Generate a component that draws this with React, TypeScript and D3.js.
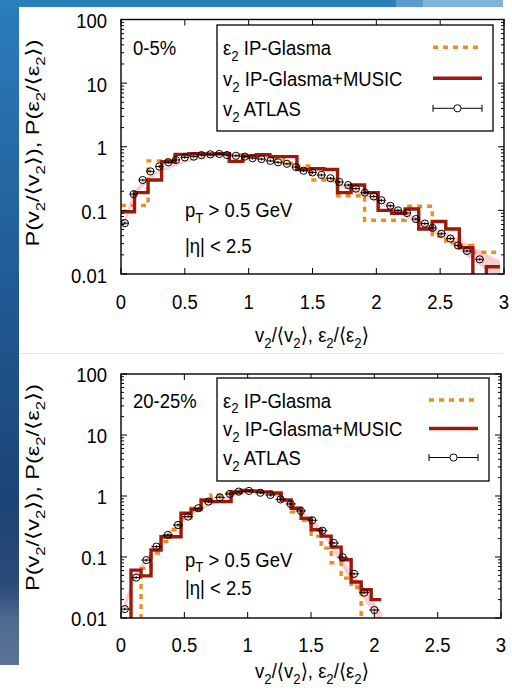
import React from "react";
import * as d3 from "d3";

const W = 512;
const H = 690;

// ---------- shared axis definitions ----------
const xTicks = [0, 0.5, 1, 1.5, 2, 2.5, 3];
const xTickLabels = ["0", "0.5", "1", "1.5", "2", "2.5", "3"];
const yTicks = [0.01, 0.1, 1, 10, 100];
const yTickLabels = ["0.01", "0.1", "1", "10", "100"];

// ---------- 0-5% ----------
const topBinWidth = 0.106;
const topGlasma = [
  0.12, 0.12, 0.6, 0.62, 0.72, 0.74, 0.76, 0.78, 0.74, 0.7, 0.72, 0.66, 0.55, 0.5,
  0.3, 0.3, 0.17, 0.17, 0.07, 0.07, 0.07, 0.116, 0.116, 0.039, 0.031, 0.028, 0.022, 0.022,
];
const topMusic = [
  0.095, 0.19, 0.3, 0.58, 0.76, 0.78, 0.77, 0.78, 0.59, 0.72, 0.75, 0.7, 0.7, 0.44,
  0.45, 0.44, 0.19, 0.25, 0.19, 0.1, 0.09, 0.105, 0.051, 0.067, 0.051, 0.026, 0.004, 0.013,
];
const topAtlasX = [
  0.03, 0.1, 0.17, 0.23, 0.3, 0.37, 0.43, 0.5, 0.57, 0.63, 0.7, 0.77, 0.83, 0.9, 0.97,
  1.03, 1.1, 1.17, 1.23, 1.3, 1.37, 1.43, 1.5, 1.57, 1.64, 1.71, 1.78, 1.84, 1.91, 1.98,
  2.04, 2.11, 2.17, 2.24, 2.31, 2.38, 2.44, 2.51, 2.58, 2.64, 2.71, 2.81,
];
const topAtlasY = [
  0.063, 0.18, 0.3, 0.41, 0.49, 0.57, 0.62, 0.68, 0.7, 0.74, 0.76, 0.77, 0.74, 0.72, 0.7,
  0.66, 0.64, 0.6, 0.57, 0.54, 0.48, 0.42, 0.395, 0.36, 0.32, 0.28, 0.25, 0.22, 0.19, 0.166,
  0.144, 0.118, 0.1, 0.091, 0.073, 0.062, 0.053, 0.043, 0.036, 0.028, 0.023, 0.017,
];
const topBandX = [0.02, 0.1, 0.2, 0.3, 0.5, 0.8, 1.0, 1.4, 1.8, 2.1, 2.4, 2.6, 2.8, 2.97];
const topBandLo = [0.05, 0.16, 0.27, 0.39, 0.56, 0.73, 0.67, 0.46, 0.2, 0.11, 0.05, 0.028, 0.014, 0.008];
const topBandHi = [0.068, 0.2, 0.33, 0.44, 0.62, 0.8, 0.74, 0.5, 0.23, 0.13, 0.062, 0.04, 0.024, 0.016];

// ---------- 20-25% ----------
const botBinWidth = 0.079;
const botGlasma = [
  0.001, 0.001, 0.065, 0.116, 0.18, 0.28, 0.44, 0.63, 0.81, 1.04, 1.1, 1.2, 1.25, 1.22,
  1.15, 1.05, 0.85, 0.55, 0.4, 0.22, 0.14, 0.08, 0.045, 0.032, 0.001, 0.001,
];
const botMusic = [
  0.001, 0.061, 0.049, 0.13, 0.215, 0.215, 0.52, 0.6, 0.86, 0.81, 0.81, 1.15, 1.22, 1.2,
  1.17, 1.12, 0.86, 0.63, 0.43, 0.28, 0.22, 0.145, 0.09, 0.039, 0.029, 0.02,
];
const botAtlasX = [
  0.03, 0.12, 0.2, 0.28, 0.37, 0.45, 0.53, 0.61, 0.69, 0.78, 0.86, 0.93, 1.01, 1.1, 1.18,
  1.26, 1.34, 1.42, 1.51, 1.59, 1.68, 1.75, 1.84, 1.92, 2.0,
];
const botAtlasY = [
  0.014, 0.046, 0.089, 0.148, 0.23, 0.335, 0.46, 0.63, 0.81, 0.95, 1.08, 1.18, 1.21, 1.13,
  1.04, 0.88, 0.74, 0.57, 0.4, 0.27, 0.17, 0.099, 0.053, 0.026, 0.0135,
];
const botBandX = [0.02, 0.1, 0.2, 0.4, 0.6, 0.8, 1.0, 1.2, 1.4, 1.6, 1.8, 1.95, 2.06];
const botBandLo = [0.011, 0.038, 0.082, 0.26, 0.55, 0.85, 1.12, 1.05, 0.58, 0.22, 0.045, 0.016, 0.007];
const botBandHi = [0.016, 0.05, 0.098, 0.3, 0.62, 0.93, 1.22, 1.14, 0.66, 0.28, 0.065, 0.026, 0.012];

const FONT = "'Liberation Sans', Arial, 'DejaVu Sans', sans-serif";
const ORANGE = "#f28a1c";
const DARKRED = "#9c1a0c";
const BAND = "#f8c6c6";
const STRETCH = 1.12;

type Seg = { t: string; sub?: boolean };

function Rich({
  x, y, segs, size = 18.5, anchor = "start", stretch = STRETCH,
}: { x: number; y: number; segs: Seg[]; size?: number; anchor?: string; stretch?: number }) {
  const subSize = size * 0.72;
  const shift = size * 0.28;
  let prevSub = false;
  return (
    <text
      transform={`translate(${x},${y}) scale(1,${stretch})`}
      fontFamily={FONT}
      fontSize={size}
      textAnchor={anchor as any}
      fill="#000"
    >
      {segs.map((s, i) => {
        let dy = 0;
        if (s.sub && !prevSub) dy = shift;
        if (!s.sub && prevSub) dy = -shift;
        prevSub = !!s.sub;
        return (
          <tspan key={i} dy={dy} fontSize={s.sub ? subSize : size}>
            {s.t}
          </tspan>
        );
      })}
    </text>
  );
}

type PanelCfg = {
  id: string;
  left: number; right: number; top: number; bottom: number;
  binWidth: number;
  glasma: number[]; music: number[];
  atlasX: number[]; atlasY: number[]; atlasHalf: number;
  bandX: number[]; bandLo: number[]; bandHi: number[];
  centLabel: string; centBase: number;
  legend: { x1: number; y1: number; x2: number; y2: number; rows: number[]; s1: number; s2: number };
  kin: number[];
  xLabelBase: number; xTitleBase: number; yTitleMid: number; yLabelDy: number;
};

function Panel(c: PanelCfg) {
  const x = d3.scaleLinear().domain([0, 3]).range([c.left, c.right]);
  const y = d3.scaleLog().domain([0.01, 100]).range([c.bottom, c.top]);

  const stepPts = (vals: number[]) => {
    const pts: [number, number][] = vals.map((v, i) => [i * c.binWidth, v]);
    pts.push([vals.length * c.binWidth, vals[vals.length - 1]]);
    return pts;
  };
  const step = d3
    .line<[number, number]>()
    .x((d) => x(d[0]))
    .y((d) => y(Math.max(d[1], 0.0005)))
    .curve(d3.curveStepAfter);

  const band = d3
    .area<number>()
    .x((i) => x(c.bandX[i]))
    .y0((i) => y(c.bandLo[i]))
    .y1((i) => y(c.bandHi[i]));

  const minor: number[] = [];
  for (let e = -2; e < 2; e++) for (let m = 2; m <= 9; m++) minor.push(m * Math.pow(10, e));

  const clip = `clip-${c.id}`;
  const L = c.legend;

  return (
    <g>
      <defs>
        <clipPath id={clip}>
          <rect x={c.left} y={c.top} width={c.right - c.left} height={c.bottom - c.top} />
        </clipPath>
      </defs>

      <g clipPath={`url(#${clip})`}>
        <path d={band(d3.range(c.bandX.length)) || ""} fill={BAND} opacity={0.85} />
        <path
          d={step(stepPts(c.glasma)) || ""}
          fill="none"
          stroke={ORANGE}
          strokeWidth={3.4}
          strokeDasharray="5,5"
        />
        <path d={step(stepPts(c.music)) || ""} fill="none" stroke={DARKRED} strokeWidth={3.4} />
        {c.atlasX.map((vx, i) => {
          const cx = x(vx);
          const cy = y(c.atlasY[i]);
          return (
            <g key={i} stroke="#000" strokeWidth={1} fill="none">
              <line x1={x(vx - c.atlasHalf)} x2={x(vx + c.atlasHalf)} y1={cy} y2={cy} />
              <line x1={cx} x2={cx} y1={y(c.atlasY[i] * 0.95)} y2={y(c.atlasY[i] * 1.05)} />
              <circle cx={cx} cy={cy} r={3.6} />
            </g>
          );
        })}
      </g>

      {/* ticks */}
      <g stroke="#000" strokeWidth={1}>
        {yTicks.map((t) => (
          <g key={t}>
            <line x1={c.left} x2={c.left + 6} y1={y(t)} y2={y(t)} />
            <line x1={c.right} x2={c.right - 6} y1={y(t)} y2={y(t)} />
          </g>
        ))}
        {minor.map((t) => (
          <g key={t}>
            <line x1={c.left} x2={c.left + 3} y1={y(t)} y2={y(t)} />
            <line x1={c.right} x2={c.right - 3} y1={y(t)} y2={y(t)} />
          </g>
        ))}
        {xTicks.map((t) => (
          <g key={t}>
            <line x1={x(t)} x2={x(t)} y1={c.bottom} y2={c.bottom - 6} />
            <line x1={x(t)} x2={x(t)} y1={c.top} y2={c.top + 6} />
          </g>
        ))}
      </g>
      <rect
        x={c.left}
        y={c.top}
        width={c.right - c.left}
        height={c.bottom - c.top}
        fill="none"
        stroke="#000"
        strokeWidth={1.4}
      />

      {/* tick labels */}
      {yTicks.map((t, i) => (
        <Rich key={t} x={c.left - 14} y={y(t) + c.yLabelDy} anchor="end" segs={[{ t: yTickLabels[i] }]} />
      ))}
      {xTicks.map((t, i) => (
        <Rich key={t} x={x(t)} y={c.xLabelBase} anchor="middle" segs={[{ t: xTickLabels[i] }]} />
      ))}

      {/* axis titles */}
      <Rich
        x={312}
        y={c.xTitleBase}
        anchor="middle"
        segs={[
          { t: "v" }, { t: "2", sub: true }, { t: "/\u27e8v" }, { t: "2", sub: true },
          { t: "\u27e9, \u03b5" }, { t: "2", sub: true }, { t: "/\u27e8\u03b5" },
          { t: "2", sub: true }, { t: "\u27e9" },
        ]}
      />
      <g transform={`translate(39,${c.yTitleMid}) rotate(-90)`}>
        <text
          fontFamily={FONT}
          fontSize={19}
          textAnchor="middle"
          textLength={207}
          lengthAdjust="spacingAndGlyphs"
        >
          <tspan>P(v</tspan>
          <tspan fontSize={13.5} dy={5.5}>2</tspan>
          <tspan dy={-5.5}>/⟨v</tspan>
          <tspan fontSize={13.5} dy={5.5}>2</tspan>
          <tspan dy={-5.5}>⟩), P(ε</tspan>
          <tspan fontSize={13.5} dy={5.5}>2</tspan>
          <tspan dy={-5.5}>/⟨ε</tspan>
          <tspan fontSize={13.5} dy={5.5}>2</tspan>
          <tspan dy={-5.5}>⟩)</tspan>
        </text>
      </g>

      {/* centrality and kinematic cuts */}
      <Rich x={c.left + 12} y={c.centBase} segs={[{ t: c.centLabel }]} />
      <Rich x={185} y={c.kin[0]} segs={[{ t: "p" }, { t: "T", sub: true }, { t: " > 0.5 GeV" }]} />
      <Rich x={185} y={c.kin[1]} segs={[{ t: "|\u03b7| < 2.5" }]} />

      {/* legend */}
      <rect x={L.x1} y={L.y1} width={L.x2 - L.x1} height={L.y2 - L.y1} fill="#fff" stroke="#000" strokeWidth={1.3} />
      <Rich x={L.x1 + 6} y={L.rows[0] + 7.5} segs={[{ t: "\u03b5" }, { t: "2", sub: true }, { t: " IP-Glasma" }]} />
      <Rich x={L.x1 + 6} y={L.rows[1] + 7.5} segs={[{ t: "v" }, { t: "2", sub: true }, { t: " IP-Glasma+MUSIC" }]} />
      <Rich x={L.x1 + 6} y={L.rows[2] + 7.5} segs={[{ t: "v" }, { t: "2", sub: true }, { t: " ATLAS" }]} />
      <line x1={L.s1} x2={L.s2} y1={L.rows[0]} y2={L.rows[0]} stroke={ORANGE} strokeWidth={3.4} strokeDasharray="5,5" />
      <line x1={L.s1} x2={L.s2} y1={L.rows[1]} y2={L.rows[1]} stroke={DARKRED} strokeWidth={3.4} />
      <g stroke="#000" strokeWidth={1} fill="none">
        <line x1={L.s1} x2={L.s2} y1={L.rows[2]} y2={L.rows[2]} />
        <line x1={L.s1} x2={L.s1} y1={L.rows[2] - 3.5} y2={L.rows[2] + 3.5} />
        <line x1={L.s2} x2={L.s2} y1={L.rows[2] - 3.5} y2={L.rows[2] + 3.5} />
        <circle cx={(L.s1 + L.s2) / 2} cy={L.rows[2]} r={3.6} fill="#fff" />
      </g>
    </g>
  );
}

export default function App() {
  return (
    <div style={{ position: "fixed", left: 0, top: 0 }}>
      <svg width={W} height={H} viewBox={`0 0 ${W} ${H}`} style={{ display: "block" }}>
        <defs>
          <linearGradient id="sideGrad" x1="0" y1="0" x2="0" y2="1">
            <stop offset="0" stopColor="#2c7dbb" />
            <stop offset="0.35" stopColor="#22609c" />
            <stop offset="0.75" stopColor="#1c4476" />
            <stop offset="0.88" stopColor="#2a4a78" />
            <stop offset="0.93" stopColor="#4e6a8e" />
            <stop offset="1" stopColor="#5a7394" />
          </linearGradient>
        </defs>
        <rect x={0} y={0} width={W} height={H} fill="#fff" />
        <rect x={0} y={0} width={19} height={665} fill="url(#sideGrad)" />
        <rect x={0} y={0} width={396} height={7} fill="#2b7fbd" />
        <rect x={396} y={0} width={27} height={7} fill="#5a9bcb" />
        <rect x={423} y={0} width={80} height={7} fill="#7fb3da" />
        <line x1={19} x2={503} y1={353.5} y2={353.5} stroke="#e2e7ee" strokeWidth={1} />

        <Panel
          id="top"
          left={121} right={504} top={19.5} bottom={274}
          binWidth={topBinWidth}
          glasma={topGlasma} music={topMusic}
          atlasX={topAtlasX} atlasY={topAtlasY} atlasHalf={0.033}
          bandX={topBandX} bandLo={topBandLo} bandHi={topBandHi}
          centLabel="0-5%" centBase={55}
          legend={{ x1: 217, y1: 25, x2: 493, y2: 131, rows: [47.3, 78.3, 108.3], s1: 433, s2: 482 }}
          kin={[217, 253]}
          xLabelBase={309} xTitleBase={342} yTitleMid={143} yLabelDy={8.5}
        />
        <Panel
          id="bot"
          left={121} right={501} top={374} bottom={618}
          binWidth={botBinWidth}
          glasma={botGlasma} music={botMusic}
          atlasX={botAtlasX} atlasY={botAtlasY} atlasHalf={0.04}
          bandX={botBandX} bandLo={botBandLo} bandHi={botBandHi}
          centLabel="20-25%" centBase={408}
          legend={{ x1: 217, y1: 378, x2: 489, y2: 481, rows: [400, 428.5, 457.5], s1: 429, s2: 478 }}
          kin={[566.5, 595]}
          xLabelBase={652} xTitleBase={678} yTitleMid={487.5} yLabelDy={7.5}
        />
      </svg>
    </div>
  );
}
